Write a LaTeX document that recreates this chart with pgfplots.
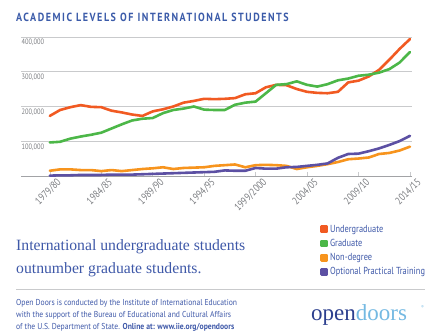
\documentclass[border=0pt]{standalone}
\usepackage{fontspec}
\usepackage{pgfplots}
\usepackage{pgfplotstable}
\pgfplotsset{compat=1.18}
\setmainfont{PT Sans}
\newfontfamily\condfont[FakeStretch=0.82]{PT Sans}
\newfontfamily\footfont[FakeStretch=0.89]{PT Sans}
\newfontfamily\titlefont[FakeStretch=0.85,LetterSpace=13]{PT Sans}
\newfontfamily\serifmsg{Liberation Serif}
\definecolor{ugc}{HTML}{F15A22}
\definecolor{grc}{HTML}{4CB748}
\definecolor{ndc}{HTML}{F7941D}
\definecolor{optc}{HTML}{5C50A3}
\definecolor{titleblue}{HTML}{3B5BA9}
\definecolor{textblue}{HTML}{3E58A8}
\definecolor{tickgray}{HTML}{7A7C80}
\definecolor{gridgray}{HTML}{C9CACC}
\definecolor{navy}{HTML}{2C3F8E}
\definecolor{lightblue}{HTML}{74B9E2}

\pgfplotstableread{
i ug gr nd opt
0 174 98 17 3
1 191 100 21 4
2 199 109 21 4
3 205 115 19 5
4 200 120 19 5
5 199 126 16 5
6 189 138 19 6
7 184 150 16 6
8 178 161 19 6
9 174 166 22 7
10 187 168 24 8
11 193 182 27 9
12 201 191 22 10
13 212 195 25 11
14 217 201 26 12
15 223 192 27 13
16 222 191 31 14
17 223 191 33 18
18 225 206 35 17
19 236 212 27 17
20 239 215 33 25
21 256 239 34 23
22 263 263 33 23
23 262 265 31 27
24 251 273 22 28
25 243 263 27 31
26 240 258 31 34
27 239 265 36 38
28 243 276 42 54
29 270 281 50 65
30 275 289 52 66
31 287 292 55 73
32 306 298 65 81
33 335 308 68 91
34 366 327 75 102
35 394 357 86 117
}\datatable

\begin{document}
\begin{tikzpicture}
\useasboundingbox (0pt,0pt) rectangle (440pt,335pt);
\node[anchor=west, inner sep=0, text=titleblue, font=\titlefont\bfseries\fontsize{11.8}{12}\selectfont] at (16pt,317.5pt) {ACADEMIC LEVELS OF INTERNATIONAL STUDENTS};
\begin{axis}[
  at={(21pt,158.3pt)}, anchor=south west,
  scale only axis, width=391pt, height=139.7pt,
  xmin=-2.8, xmax=35.2, ymin=0, ymax=400,
  clip=false,
  axis line style={draw=none},
  ymajorgrids, grid style={gridgray, line width=1pt},
  ytick={100,200,300,400},
  yticklabels={{100,000},{200,000},{300,000},{400,000}},
  yticklabel style={anchor=north west, inner sep=0.5pt, xshift=0pt, yshift=-1.5pt, font=\condfont\fontsize{7.8}{8}\selectfont, text=tickgray},
  ytick style={draw=none},
  xtick={0,5,10,15,20,25,30,35},
  xticklabels={1979/80,1984/85,1989/90,1994/95,1999/2000,2004/05,2009/10,2014/15},
  xticklabel style={rotate=45, anchor=north east, inner sep=1pt, xshift=5pt, yshift=-4pt, font=\condfont\fontsize{10.5}{11}\selectfont, text=tickgray},
  xtick pos=bottom, tick align=inside, major tick length=5pt,
  xtick style={gridgray, densely dotted, line width=0.6pt},
  legend style={draw=none, fill=none, at={(0.765,-0.33)}, anchor=north west, font=\condfont\fontsize{10.2}{11}\selectfont, text=textblue, row sep=1.5pt, inner sep=0pt},
  legend cell align=left,
  legend image code/.code={\fill[#1] (0pt,-2.6pt) rectangle (5.2pt,2.6pt);},
  every axis plot/.append style={line width=2.6pt, line join=round, line cap=round},
]
\draw[tickgray!70, line width=0.9pt] (rel axis cs:0,0) -- (rel axis cs:1,0);
\addplot[color=ugc] table[x=i, y=ug] {\datatable};
\addplot[color=grc] table[x=i, y=gr] {\datatable};
\addplot[color=ndc] table[x=i, y=nd] {\datatable};
\addplot[color=optc] table[x=i, y=opt] {\datatable};
\legend{Undergraduate,Graduate,Non-degree,Optional Practical Training}
\end{axis}
\node[anchor=north west, inner sep=0, align=left, text=textblue, font=\serifmsg\fontsize{15.7}{23}\selectfont] at (16pt,96pt) {International undergraduate students\\outnumber graduate students.};
\draw[gridgray, line width=0.6pt] (16pt,46pt) -- (425pt,46pt);
\node[anchor=north west, inner sep=0, align=left, text=textblue, font=\footfont\fontsize{8.6}{12}\selectfont] at (16pt,36pt) {Open Doors is conducted by the Institute of International Education\\with the support of the Bureau of Educational and Cultural Affairs\\of the U.S. Department of State. \textbf{Online at: www.iie.org/opendoors}};
\node[anchor=base west, inner sep=0, font=\serifmsg\fontsize{23}{24}\selectfont] at (311pt,14pt) {\textcolor{navy}{open}\textcolor{lightblue}{doors}};
\node[anchor=north west, inner sep=0, text=lightblue, font=\fontsize{4}{4}\selectfont] at (421pt,30pt) {\textregistered};
\end{tikzpicture}
\end{document}
